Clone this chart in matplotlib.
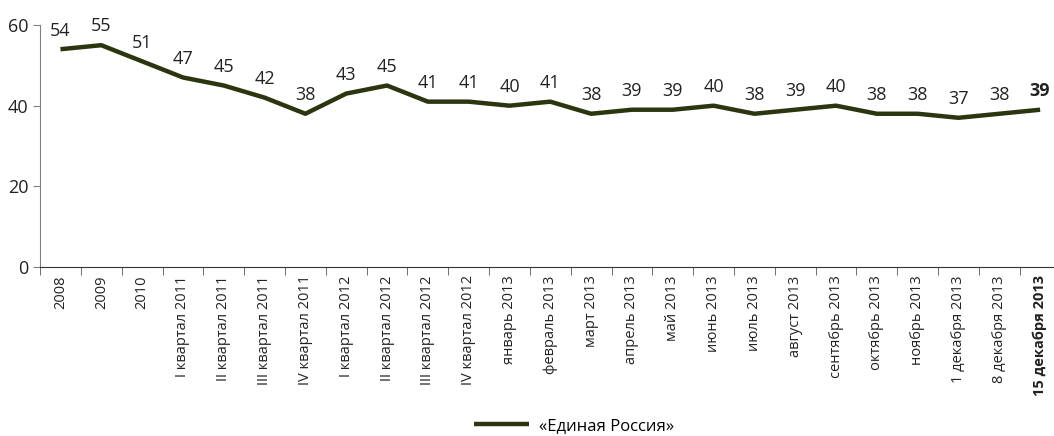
import numpy as np
import matplotlib.pyplot as plt

periods = ['2008', '2009', '2010', 'I квартал 2011', 'II квартал 2011', 'III квартал 2011',
           'IV квартал 2011', 'I квартал 2012', 'II квартал 2012', 'III квартал 2012',
           'IV квартал 2012', 'январь 2013', 'февраль 2013', 'март 2013', 'апрель 2013',
           'май 2013', 'июнь 2013', 'июль 2013', 'август 2013', 'сентябрь 2013',
           'октябрь 2013', 'ноябрь 2013', '1 декабря 2013', '8 декабря 2013', '15 декабря 2013']
er_values = [54, 55, 51, 47, 45, 42, 38, 43, 45, 41, 41, 40, 41, 38, 39, 39, 40, 38, 39, 40,
             38, 38, 37, 38, 39]
y_ticks = [0, 20, 40, 60]

plt.rcParams['font.family'] = ['Open Sans', 'DejaVu Sans']
line_color = '#2b3510'
text_color = '#222222'

fig = plt.figure(figsize=(10.54, 4.36), dpi=100)
ax = fig.add_axes([0.038, 0.3876, 0.962, 0.555])

x = np.arange(len(periods))
ax.plot(x, er_values, color=line_color, lw=3.2, solid_capstyle='butt',
        label='«Единая Россия»')

# подписи значений над точками
for i, v in enumerate(er_values):
    last = i == len(er_values) - 1
    ax.annotate(str(v), (x[i], v), xytext=(0, 7), textcoords='offset points',
                ha='center', va='bottom', fontsize=13, color=text_color,
                fontweight='bold' if last else 'normal')

ax.set_xlim(-0.5, 24.34)
ax.set_ylim(0, 60)
ax.set_yticks(y_ticks)
ax.tick_params(axis='y', labelsize=13, length=5, color='#808080', labelcolor=text_color)

ax.set_xticks(x)
ax.set_xticklabels(periods, rotation=90, fontsize=10.5, color=text_color)
ax.tick_params(axis='x', length=0, pad=6)
ax.set_xticks(np.arange(len(periods)) - 0.5, minor=True)
ax.tick_params(axis='x', which='minor', length=6, color='#555555', direction='out')
ax.get_xticklabels()[-1].set_fontweight('bold')

for s in ['top', 'right']:
    ax.spines[s].set_visible(False)
ax.spines['left'].set_color('#808080')
ax.spines['bottom'].set_color('#333333')

fig.legend(loc='lower center', bbox_to_anchor=(0.545, -0.03), frameon=False,
           fontsize=12, handlelength=3.3, handletextpad=0.6)

fig.savefig('out.png', dpi=100)
